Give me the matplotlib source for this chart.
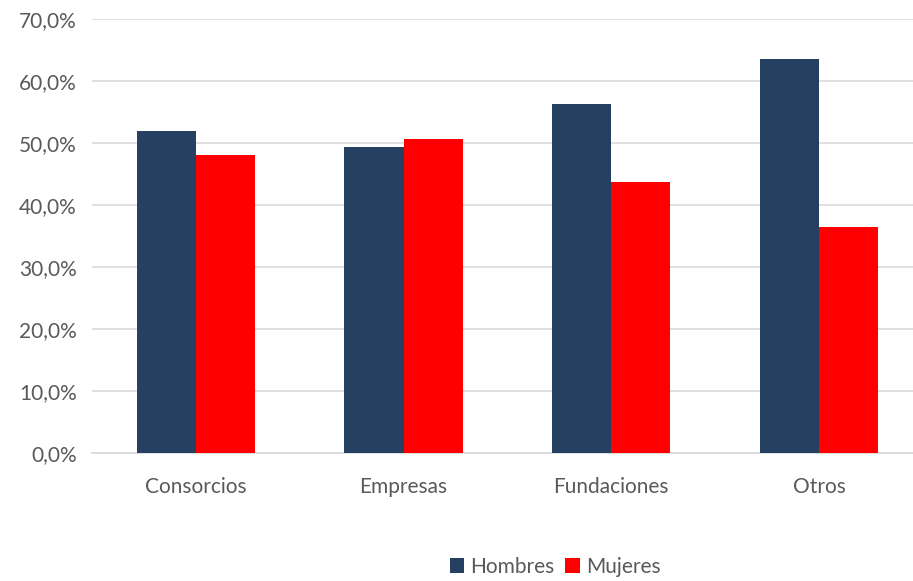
import matplotlib
matplotlib.use("Agg")
import matplotlib.pyplot as plt
import numpy as np
from matplotlib.ticker import FuncFormatter

categories = ["Consorcios", "Empresas", "Fundaciones", "Otros"]
hombres = [52.0, 49.4, 56.3, 63.5]
mujeres = [48.0, 50.6, 43.7, 36.5]
series_names = ["Hombres", "Mujeres"]
colors = ["#264061", "#FF0000"]

plt.rcParams['font.family'] = ['Lato', 'DejaVu Sans']

fig = plt.figure(figsize=(9.13, 5.81), dpi=100)
ax = fig.add_axes([92/913, 1 - 453/581, 821/913, (453 - 19)/581])

x = np.arange(len(categories))
w = 0.285
ax.bar(x - w/2, hombres, w, color=colors[0], label=series_names[0], zorder=3)
ax.bar(x + w/2, mujeres, w, color=colors[1], label=series_names[1], zorder=3)

ax.set_ylim(0, 70)
ax.set_xlim(-0.5, -0.5 + 821/207.7)
ax.set_yticks(np.arange(0, 71, 10))
ax.yaxis.set_major_formatter(FuncFormatter(lambda v, p: f"{v:.1f}".replace('.', ',') + "%"))
ax.set_xticks(x)
ax.set_xticklabels(categories)
ax.grid(axis='y', color='#d9d9d9', linewidth=1.2, zorder=0)
for s in ['top', 'right', 'left']:
    ax.spines[s].set_visible(False)
ax.spines['bottom'].set_color('#d9d9d9')
ax.spines['bottom'].set_linewidth(1.2)
ax.tick_params(axis='both', length=0, labelsize=15, labelcolor='#595959')
ax.tick_params(axis='x', pad=17)
ax.tick_params(axis='y', pad=11)

leg = fig.legend(loc='center', bbox_to_anchor=(555/913, 1 - 567/581), ncol=2, frameon=False,
                 fontsize=15, handlelength=0.7, handleheight=0.7, handletextpad=0.3, columnspacing=0.5)
for t in leg.get_texts():
    t.set_color('#595959')

fig.savefig("out.png", dpi=100)
